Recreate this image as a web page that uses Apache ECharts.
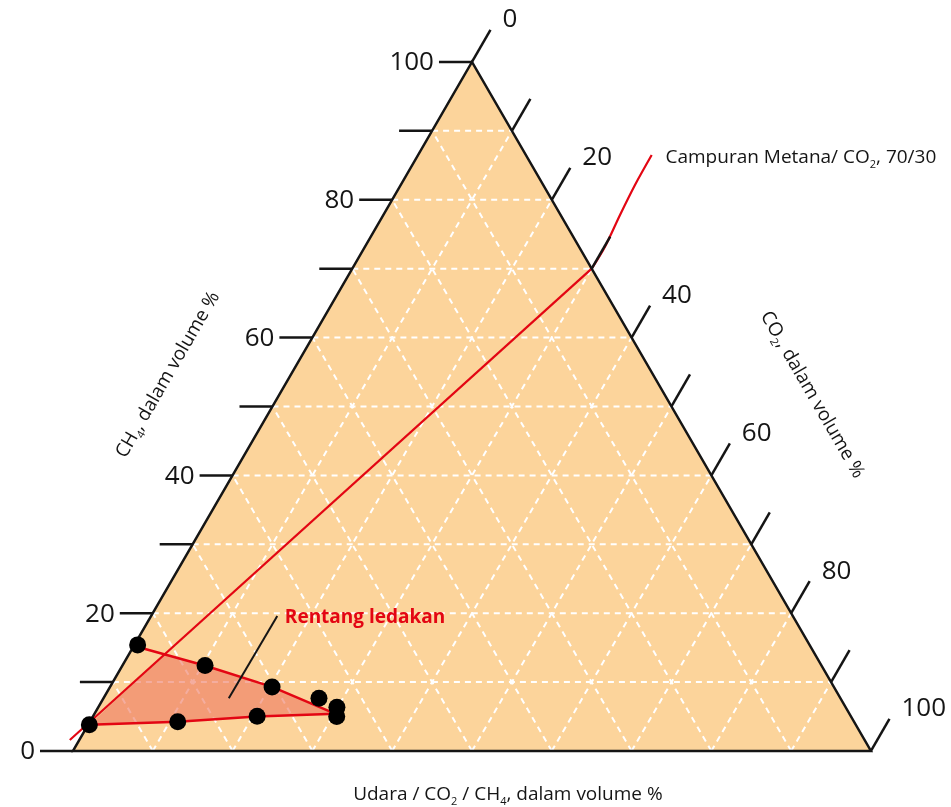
<!DOCTYPE html>
<html>
<head>
<meta charset="utf-8">
<script src="https://cdn.jsdelivr.net/npm/echarts@6/dist/echarts.min.js"></script>
<style>
  html, body { margin: 0; padding: 0; background: #fff; }
  #main { width: 951px; height: 807px; }
</style>
</head>
<body>
<div id="main"></div>
<script>
// tick values (percent) on the CH4 (left) and CO2 (right) edges
const ch4Ticks = [0, 10, 20, 30, 40, 50, 60, 70, 80, 90, 100];
const co2Ticks = [0, 10, 20, 30, 40, 50, 60, 70, 80, 90, 100];
const tickLabels = [0, 20, 40, 60, 80, 100];
const gridLevels = [10, 20, 30, 40, 50, 60, 70, 80, 90];

// points are [CH4 %, CO2 %], the rest is air
const rangeUpper = [[15.2, 0.2], [12.4, 10.3], [9.3, 20.3], [5.4, 30.2]];
const rangeLower = [[5.4, 30.2], [5.0, 20.5], [4.25, 11.0], [3.8, 0.15]];
const rangeDots = [[15.4, 0.4], [12.4, 10.35], [9.3, 20.3], [7.65, 27.0], [6.35, 29.9],
  [5.0, 30.55], [5.05, 20.55], [4.25, 11.0], [3.8, 0.15]];
const mixLine = [[1.6, -1.2], [70, 30]];
const mixLeader = [[70, 30], [73.2, 30.07], [77.8, 29.65], [82.15, 29.35], [86.5, 29.27]];
const rangeLeader = [[7.65, 15.7], [19.6, 15.8]];

const corners = [[0, 0], [100, 0], [0, 100]];

const SQ = Math.sqrt(3) / 2;
function tern(p) { return [p[1] + p[0] / 2, p[0] * SQ]; }

// crossing of the first upper segment with the air -> 70/30 line
function cross(a1, a2, b1, b2) {
  const p = tern(a1), r = tern(a2), q = tern(b1), s = tern(b2);
  const d1 = [r[0] - p[0], r[1] - p[1]], d2 = [s[0] - q[0], s[1] - q[1]];
  const den = d1[0] * d2[1] - d1[1] * d2[0];
  const t = ((q[0] - p[0]) * d2[1] - (q[1] - p[1]) * d2[0]) / den;
  return [p[0] + t * d1[0], p[1] + t * d1[1]];
}
const fillPts = [cross(rangeUpper[0], rangeUpper[1], mixLine[0], mixLine[1])]
  .concat(rangeUpper.slice(1).map(tern), rangeLower.slice(1).map(tern));

const RED = '#E30613';
const INK = '#151515';
const FONT = '"Open Sans", "Noto Sans", sans-serif';

const rich = {
  n: { fontSize: 19, fontFamily: FONT, fill: INK, lineHeight: 25 },
  s: { fontSize: 11, fontFamily: FONT, fill: INK, lineHeight: 11, verticalAlign: 'bottom' },
  b: { fontSize: 19, fontWeight: 'bold', fontFamily: FONT, fill: RED, lineHeight: 25 }
};
const notes = [
  { pos: [54.6, -15.4], rot: Math.PI / 3, align: 'center', text: '{n|CH}{s|4}{n|, dalam volume %}' },
  { pos: [51.7, 66.8], rot: -Math.PI / 3, align: 'center', text: '{n|CO}{s|2}{n|, dalam volume %}' },
  { pos: [-6.4, 57.7], rot: 0, align: 'center', text: '{n|Udara / CO}{s|2}{n| / CH}{s|4}{n|, dalam volume %}' },
  { pos: [86.1, 31.2], rot: 0, align: 'left', text: '{n|Campuran Metana/ CO}{s|2}{n|, 70/30}' },
  { pos: [19.3, 16.9], rot: 0, align: 'left', text: '{b|Rentang ledakan}' }
];

const chart = echarts.init(document.getElementById('main'));

chart.setOption({
  animation: false,
  grid: { left: 0, right: 0, top: 0, bottom: 0 },
  xAxis: { type: 'value', min: -9.148, max: 110.03, show: false },
  yAxis: { type: 'value', min: -7.04, max: 94.39, show: false },
  series: [
    {
      type: 'custom', silent: true, z: 1, clip: false,
      data: [[0, 0]],
      renderItem: (params, api) => ({
        type: 'polygon',
        shape: { points: corners.map(c => api.coord(tern(c))) },
        style: { fill: '#FCD49B' }
      })
    },
    {
      type: 'custom', silent: true, z: 2, clip: false,
      data: gridLevels.map(v => [v, 0]),
      renderItem: (params, api) => {
        const v = api.value(0);
        const segs = [
          [[v, 0], [v, 100 - v]],
          [[0, v], [100 - v, v]],
          [[0, 100 - v], [100 - v, 0]]
        ];
        return {
          type: 'group',
          children: segs.map(s => {
            const a = api.coord(tern(s[0])), b = api.coord(tern(s[1]));
            return {
              type: 'line',
              shape: { x1: a[0], y1: a[1], x2: b[0], y2: b[1] },
              style: { stroke: '#fff', lineWidth: 2, lineDash: [6, 5] }
            };
          })
        };
      }
    },
    {
      type: 'custom', silent: true, z: 3, clip: false,
      data: [[0, 0]],
      renderItem: (params, api) => ({
        type: 'polygon',
        shape: { points: fillPts.map(p => api.coord(p)) },
        style: { fill: 'rgba(236,118,95,0.6)' }
      })
    },
    {
      type: 'line', silent: true, z: 4, showSymbol: false,
      data: rangeUpper.map(tern),
      lineStyle: { color: RED, width: 2.5 }
    },
    {
      type: 'line', silent: true, z: 4, showSymbol: false,
      data: rangeLower.map(tern),
      lineStyle: { color: RED, width: 2.5 }
    },
    {
      type: 'line', silent: true, z: 4, showSymbol: false,
      data: mixLine.map(tern),
      lineStyle: { color: RED, width: 2.2 }
    },
    {
      type: 'line', silent: true, z: 4, showSymbol: false, smooth: 0.3,
      data: mixLeader.map(tern),
      lineStyle: { color: RED, width: 2.2 }
    },
    {
      type: 'line', silent: true, z: 4, showSymbol: false,
      data: rangeLeader.map(tern),
      lineStyle: { color: INK, width: 2 }
    },
    {
      type: 'custom', silent: true, z: 5, clip: false,
      data: [[0, 0]],
      renderItem: (params, api) => ({
        type: 'polygon',
        shape: { points: corners.map(c => api.coord(tern(c))) },
        style: { fill: null, stroke: INK, lineWidth: 2.5, lineJoin: 'miter' }
      })
    },
    {
      // CH4 ticks, left edge
      type: 'custom', silent: true, z: 5, clip: false,
      data: ch4Ticks.map(v => [v, 0]),
      renderItem: (params, api) => {
        const v = api.value(0);
        const p = api.coord(tern([v, 0]));
        const kids = [{
          type: 'line',
          shape: { x1: p[0] - 33, y1: p[1], x2: p[0], y2: p[1] },
          style: { stroke: INK, lineWidth: 2.5 }
        }];
        if (tickLabels.includes(v)) {
          kids.push({
            type: 'text', x: p[0] - 38, y: p[1] + 1,
            style: { text: String(v), font: '26px ' + FONT, fill: INK, align: 'right', verticalAlign: 'middle' }
          });
        }
        return { type: 'group', children: kids };
      }
    },
    {
      // CO2 ticks, right edge
      type: 'custom', silent: true, z: 5, clip: false,
      data: co2Ticks.map(v => [v, 0]),
      renderItem: (params, api) => {
        const v = api.value(0);
        const p = api.coord(tern([100 - v, v]));
        const e = [p[0] + 18.5, p[1] - 32];
        const kids = [{
          type: 'line',
          shape: { x1: p[0], y1: p[1], x2: e[0], y2: e[1] },
          style: { stroke: INK, lineWidth: 2.5 }
        }];
        if (tickLabels.includes(v)) {
          kids.push({
            type: 'text', x: e[0] + 12, y: e[1] - 10,
            style: { text: String(v), font: '26px ' + FONT, fill: INK, align: 'left', verticalAlign: 'middle' }
          });
        }
        return { type: 'group', children: kids };
      }
    },
    {
      type: 'scatter', silent: true, z: 6,
      data: rangeDots.map(tern),
      symbolSize: 17,
      itemStyle: { color: '#000', opacity: 1 }
    },
    {
      type: 'custom', silent: true, z: 7, clip: false,
      data: notes.map((n, i) => [i, 0]),
      renderItem: (params, api) => {
        const n = notes[params.dataIndex];
        const p = api.coord(tern(n.pos));
        return {
          type: 'text', x: p[0], y: p[1], rotation: n.rot,
          style: { text: n.text, align: n.align, verticalAlign: 'middle', rich: rich }
        };
      }
    }
  ]
});
</script>
</body>
</html>
